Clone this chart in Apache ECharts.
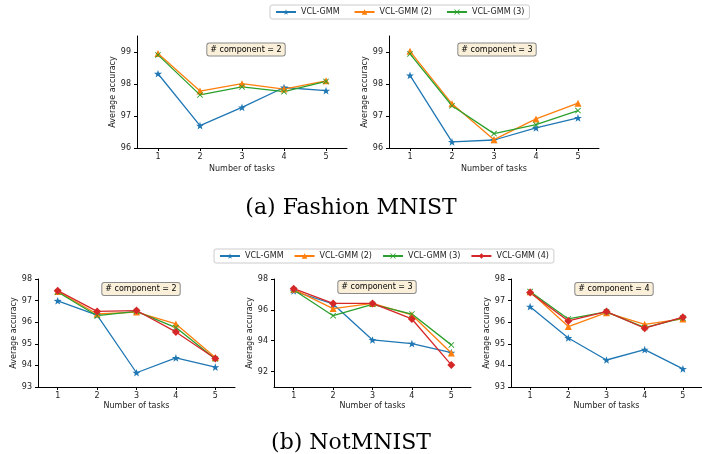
<!DOCTYPE html>
<html>
<head>
<meta charset="utf-8">
<script src="https://cdn.jsdelivr.net/npm/echarts@6/dist/echarts.min.js"></script>
<style>html,body{margin:0;padding:0;background:#fff;}#c{width:702px;height:454px;}</style>
</head>
<body>
<div id="c"></div>
<script>
const categories = ['1', '2', '3', '4', '5'];
const seriesNames = ['VCL-GMM', 'VCL-GMM (2)', 'VCL-GMM (3)', 'VCL-GMM (4)'];

// Fashion MNIST, # component = 2
const fm2_gmm  = [98.32, 96.70, 97.27, 97.89, 97.79];
const fm2_gmm2 = [98.95, 97.78, 98.01, 97.84, 98.10];
const fm2_gmm3 = [98.91, 97.66, 97.91, 97.76, 98.08];
// Fashion MNIST, # component = 3
const fm3_gmm  = [98.27, 96.19, 96.25, 96.63, 96.94];
const fm3_gmm2 = [99.02, 97.38, 96.26, 96.91, 97.40];
const fm3_gmm3 = [98.94, 97.32, 96.45, 96.73, 97.17];
// NotMNIST, # component = 2
const nm2_gmm  = [96.99, 96.33, 93.66, 94.35, 93.92];
const nm2_gmm2 = [97.42, 96.38, 96.47, 95.92, 94.37];
const nm2_gmm3 = [97.40, 96.30, 96.50, 95.75, 94.30];
const nm2_gmm4 = [97.46, 96.50, 96.54, 95.55, 94.32];
// NotMNIST, # component = 3
const nm3_gmm  = [97.22, 96.38, 94.05, 93.81, 93.23];
const nm3_gmm2 = [97.33, 96.08, 96.42, 95.67, 93.20];
const nm3_gmm3 = [97.29, 95.62, 96.36, 95.73, 93.73];
const nm3_gmm4 = [97.37, 96.42, 96.42, 95.41, 92.43];
// NotMNIST, # component = 4
const nm4_gmm  = [96.72, 95.27, 94.25, 94.73, 93.84];
const nm4_gmm2 = [97.41, 95.80, 96.44, 95.90, 96.15];
const nm4_gmm3 = [97.42, 96.15, 96.48, 95.75, 96.20];
const nm4_gmm4 = [97.37, 96.06, 96.49, 95.72, 96.23];

// y tick labels
const fmYTicks  = [96, 97, 98, 99];
const nm2YTicks = [93, 94, 95, 96, 97, 98];
const nm3YTicks = [92, 94, 96, 98];
const nm4YTicks = [93, 94, 95, 96, 97, 98];

const panelTitles = ['# component = 2', '# component = 3', '# component = 2', '# component = 3', '# component = 4'];
const captions = ['(a) Fashion MNIST', '(b) NotMNIST'];

const colors = ['#1f77b4', '#ff7f0e', '#2ca02c', '#d62728'];
const starPath = 'path://M0,-10L2.35,-3.24L9.51,-3.09L3.8,1.24L5.88,8.09L0,4L-5.88,8.09L-3.8,1.24L-9.51,-3.09L-2.35,-3.24Z';
const xPath = 'path://M-5,-4L-4,-5L0,-1L4,-5L5,-4L1,0L5,4L4,5L0,1L-4,5L-5,4L-1,0Z';
const symbols = [starPath, 'triangle', xPath, 'diamond'];
const symbolSizes = [8, 7, 6, 8];

const panels = [
  { grid: { left: 137, top: 36, width: 210, height: 112 }, min: 96, max: 99.5, ticks: fmYTicks, data: [fm2_gmm, fm2_gmm2, fm2_gmm3], yGap: 20, xGap: 17, box: [246, 49.5] },
  { grid: { left: 389, top: 36, width: 210, height: 112 }, min: 96, max: 99.5, ticks: fmYTicks, data: [fm3_gmm, fm3_gmm2, fm3_gmm3], yGap: 20, xGap: 17, box: [497, 49.5] },
  { grid: { left: 38, top: 279, width: 197, height: 108 }, min: 93, max: 98, ticks: nm2YTicks, data: [nm2_gmm, nm2_gmm2, nm2_gmm3, nm2_gmm4], yGap: 19, xGap: 15, box: [141, 289] },
  { grid: { left: 274, top: 279, width: 197, height: 108 }, min: 91, max: 98, ticks: nm3YTicks, data: [nm3_gmm, nm3_gmm2, nm3_gmm3, nm3_gmm4], yGap: 19, xGap: 15, box: [377, 287] },
  { grid: { left: 511, top: 279, width: 197, height: 108 }, min: 93, max: 98, ticks: nm4YTicks, data: [nm4_gmm, nm4_gmm2, nm4_gmm3, nm4_gmm4], yGap: 19, xGap: 15, box: [614, 289] }
];

const FONT = 'DejaVu Sans';
const axisLineStyle = { show: true, lineStyle: { color: '#000', width: 1 } };
const grids = [], xAxes = [], yAxes = [], series = [], graphics = [];

panels.forEach((p, i) => {
  grids.push(p.grid);
  xAxes.push({
    type: 'category', gridIndex: i, data: categories, boundaryGap: true,
    name: 'Number of tasks', nameLocation: 'middle', nameGap: p.xGap,
    nameTextStyle: { fontFamily: FONT, fontSize: 8, color: '#222' },
    axisLine: axisLineStyle,
    axisTick: { show: true, alignWithLabel: true, length: 3, lineStyle: { color: '#000' } },
    axisLabel: { fontFamily: FONT, fontSize: 8, color: '#222', margin: 5 },
    splitLine: { show: false }
  });
  yAxes.push({
    type: 'value', gridIndex: i, min: p.min, max: p.max,
    name: 'Average accuracy', nameLocation: 'middle', nameGap: p.yGap,
    nameTextStyle: { fontFamily: FONT, fontSize: 8, color: '#222' },
    axisLine: axisLineStyle,
    axisTick: { show: true, length: 3, lineStyle: { color: '#000' }, customValues: p.ticks },
    axisLabel: { fontFamily: FONT, fontSize: 8, color: '#222', margin: 6, customValues: p.ticks },
    splitLine: { show: false }
  });
  p.data.forEach((d, k) => {
    series.push({
      type: 'line', name: seriesNames[k], xAxisIndex: i, yAxisIndex: i, data: d,
      symbol: symbols[k], symbolSize: symbolSizes[k], symbolKeepAspect: true, showAllSymbol: true,
      itemStyle: { color: colors[k] },
      lineStyle: { color: colors[k], width: 1.3 },
      emphasis: { disabled: true }, animation: false
    });
  });
  graphics.push({
    type: 'text', x: p.box[0], y: p.box[1], z: 100,
    style: {
      text: panelTitles[i], font: '8px "DejaVu Sans"', fill: '#000',
      align: 'center', verticalAlign: 'middle',
      backgroundColor: '#faefd9', borderColor: '#8a8a8a', borderWidth: 1, borderRadius: 2,
      padding: [2, 3, 2, 3]
    }
  });
});

const legendCommon = {
  orient: 'horizontal', itemWidth: 20, itemHeight: 7,
  textStyle: { fontFamily: FONT, fontSize: 8, color: '#222' },
  borderColor: '#cccccc', borderWidth: 1, borderRadius: 2, padding: [3, 5],
  backgroundColor: '#fff', selectedMode: false
};

const option = {
  backgroundColor: '#fff',
  animation: false,
  title: [
    { text: captions[0], left: 'center', top: 192, textStyle: { fontFamily: 'DejaVu Serif', fontSize: 22, fontWeight: 'normal', color: '#000' } },
    { text: captions[1], left: 'center', top: 427, textStyle: { fontFamily: 'DejaVu Serif', fontSize: 22, fontWeight: 'normal', color: '#000' } }
  ],
  legend: [
    Object.assign({}, legendCommon, { data: seriesNames.slice(0, 3), left: 270, top: 5, itemGap: 14 }),
    Object.assign({}, legendCommon, { data: seriesNames.slice(0, 4), left: 214, top: 249, itemGap: 10 })
  ],
  grid: grids,
  xAxis: xAxes,
  yAxis: yAxes,
  series: series,
  graphic: graphics
};

const chart = echarts.init(document.getElementById('c'), null, { renderer: 'canvas' });
chart.setOption(option);
</script>
</body>
</html>
